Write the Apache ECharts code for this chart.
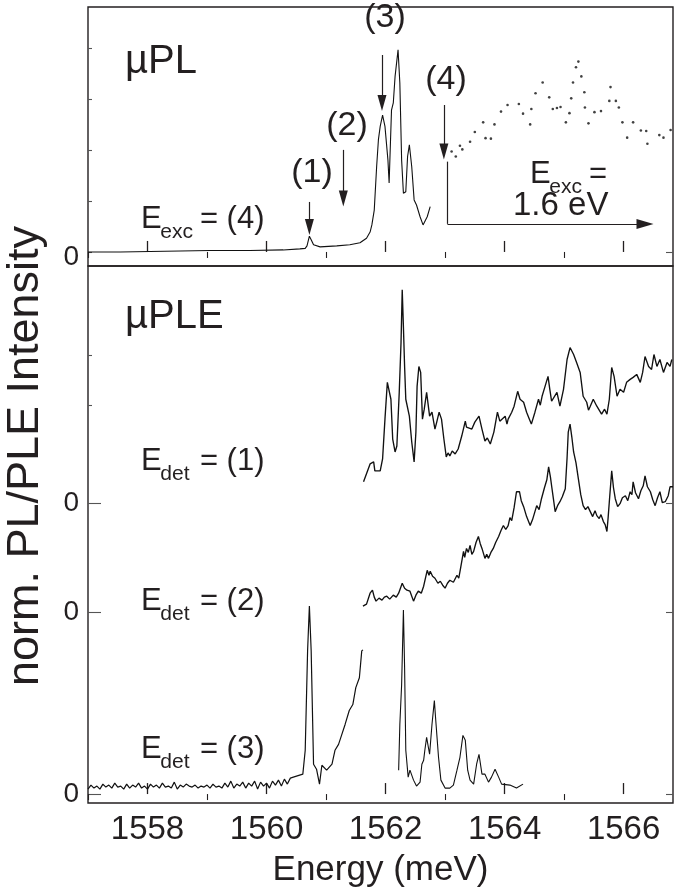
<!DOCTYPE html>
<html>
<head>
<meta charset="utf-8">
<script src="https://cdn.jsdelivr.net/npm/echarts@6/dist/echarts.min.js"></script>
<style>
html,body{margin:0;padding:0;background:#fff}
#chart{width:675px;height:893px}
</style>
</head>
<body>
<div id="chart"></div>
<script>
// Energy axis (meV)
const energyRange = [1557, 1566.83];
const majorTicks = [1558, 1560, 1562, 1564, 1566];
const minorTicks = [1557, 1559, 1561, 1563, 1565];

// μPL panel: spectrum excited at (4), intensity in arbitrary units
const plSpectrum = [
  [1557.00,0.00],[1557.54,0.00],[1558.04,0.01],[1558.55,0.02],[1559.05,0.03],[1559.72,0.03],
  [1560.28,0.04],[1560.56,0.06],[1560.65,0.07],[1560.68,0.12],[1560.72,0.31],[1560.75,0.24],
  [1560.79,0.14],[1560.90,0.10],[1561.18,0.12],[1561.40,0.14],[1561.57,0.18],[1561.68,0.27],
  [1561.74,0.39],[1561.77,0.53],[1561.81,0.82],[1561.85,1.67],[1561.88,2.20],[1561.91,2.46],
  [1561.95,2.68],[1561.99,2.46],[1562.04,1.80],[1562.06,1.35],[1562.10,2.78],[1562.13,2.92],
  [1562.16,3.44],[1562.21,3.96],[1562.23,3.99],[1562.24,3.31],[1562.27,1.80],[1562.30,1.15],
  [1562.34,1.18],[1562.37,1.87],[1562.40,2.10],[1562.44,1.67],[1562.48,1.02],[1562.52,0.92],
  [1562.55,0.89],[1562.58,0.69],[1562.63,0.53],[1562.66,0.53],[1562.70,0.69],[1562.75,0.89]
];

// μPL panel: spectrum excited at 1.6 eV (sparse points)
const plNonResonant = [
  [1563.11,1.97],[1563.18,1.87],[1563.25,2.08],[1563.29,2.01],[1563.42,2.16],[1563.50,2.35],
  [1563.64,2.54],[1563.68,2.23],[1563.77,2.22],[1563.83,2.50],[1563.94,2.75],[1564.05,2.88],
  [1564.24,2.90],[1564.31,2.71],[1564.43,2.50],[1564.45,2.80],[1564.52,3.11],[1564.64,3.32],
  [1564.75,3.03],[1564.81,2.80],[1564.88,2.82],[1564.94,2.84],[1565.03,2.54],[1565.09,2.72],
  [1565.12,3.01],[1565.15,3.32],[1565.20,3.62],[1565.24,3.73],[1565.29,3.44],[1565.34,3.13],
  [1565.35,2.83],[1565.41,2.52],[1565.51,2.74],[1565.62,2.76],[1565.76,2.96],[1565.78,3.23],
  [1565.87,2.96],[1565.92,2.83],[1565.98,2.54],[1566.06,2.24],[1566.16,2.54],[1566.29,2.38],
  [1566.38,2.37],[1566.40,2.12],[1566.60,2.29],[1566.67,2.24],[1566.79,2.39]
];

// μPLE panel: detection at (1)
const pleDet1 = [
  [1561.63,0.22],[1561.74,0.40],[1561.80,0.42],[1561.82,0.33],[1561.91,0.33],[1561.95,0.45],
  [1561.99,0.85],[1562.03,1.22],[1562.06,1.20],[1562.09,1.05],[1562.12,0.65],[1562.16,0.52],
  [1562.19,0.58],[1562.23,1.12],[1562.26,1.62],[1562.28,2.15],[1562.30,1.78],[1562.32,1.38],
  [1562.34,1.05],[1562.37,1.05],[1562.40,0.88],[1562.44,0.62],[1562.48,0.42],[1562.51,0.72],
  [1562.53,1.18],[1562.56,1.38],[1562.59,1.32],[1562.62,0.85],[1562.65,0.95],[1562.69,1.12],
  [1562.74,0.88],[1562.78,0.92],[1562.83,0.75],[1562.86,0.82],[1562.90,0.92],[1562.94,0.85],
  [1562.98,0.65],[1563.02,0.47],[1563.05,0.51],[1563.08,0.48],[1563.12,0.53],[1563.17,0.50],
  [1563.22,0.55],[1563.28,0.68],[1563.34,0.83],[1563.36,0.77],[1563.39,0.78],[1563.45,0.75],
  [1563.50,0.82],[1563.57,0.88],[1563.62,0.75],[1563.67,0.63],[1563.71,0.66],[1563.76,0.60],
  [1563.82,0.72],[1563.88,0.92],[1563.92,0.83],[1563.95,0.85],[1564.01,0.88],[1564.04,0.80],
  [1564.06,0.85],[1564.12,0.92],[1564.16,0.98],[1564.22,1.13],[1564.26,1.05],[1564.32,1.02],
  [1564.37,0.92],[1564.41,0.86],[1564.45,0.80],[1564.51,0.92],[1564.57,1.05],[1564.60,0.99],
  [1564.63,1.08],[1564.68,1.18],[1564.73,1.28],[1564.76,1.15],[1564.79,1.03],[1564.82,1.05],
  [1564.88,1.12],[1564.93,0.98],[1564.99,1.15],[1565.05,1.45],[1565.10,1.57],[1565.16,1.50],
  [1565.21,1.42],[1565.27,1.32],[1565.32,1.08],[1565.38,1.02],[1565.41,0.94],[1565.44,0.98],
  [1565.49,1.05],[1565.55,0.98],[1565.63,0.90],[1565.68,0.95],[1565.72,0.90],[1565.76,1.05],
  [1565.80,1.37],[1565.84,1.28],[1565.89,1.08],[1565.94,1.15],[1566.00,1.12],[1566.05,1.22],
  [1566.11,1.25],[1566.16,1.27],[1566.22,1.30],[1566.28,1.22],[1566.32,1.32],[1566.36,1.48],
  [1566.42,1.38],[1566.47,1.35],[1566.51,1.50],[1566.56,1.38],[1566.61,1.45],[1566.67,1.32],
  [1566.73,1.42],[1566.78,1.38],[1566.81,1.45]
];

// μPLE panel: detection at (2)
const pleDet2 = [
  [1561.62,0.06],[1561.68,0.08],[1561.74,0.19],[1561.78,0.22],[1561.81,0.15],[1561.84,0.11],
  [1561.89,0.14],[1561.94,0.12],[1561.98,0.15],[1562.02,0.16],[1562.07,0.13],[1562.13,0.17],
  [1562.18,0.15],[1562.22,0.19],[1562.28,0.29],[1562.32,0.24],[1562.36,0.22],[1562.41,0.21],
  [1562.47,0.11],[1562.51,0.17],[1562.55,0.21],[1562.60,0.19],[1562.64,0.26],[1562.70,0.42],
  [1562.73,0.37],[1562.75,0.41],[1562.79,0.36],[1562.83,0.34],[1562.88,0.29],[1562.92,0.31],
  [1562.96,0.27],[1563.00,0.24],[1563.04,0.29],[1563.08,0.32],[1563.14,0.30],[1563.20,0.37],
  [1563.23,0.34],[1563.26,0.44],[1563.31,0.61],[1563.33,0.55],[1563.36,0.64],[1563.39,0.60],
  [1563.42,0.67],[1563.45,0.58],[1563.48,0.61],[1563.52,0.70],[1563.56,0.76],[1563.59,0.69],
  [1563.62,0.64],[1563.67,0.54],[1563.70,0.58],[1563.73,0.54],[1563.77,0.60],[1563.81,0.64],
  [1563.85,0.70],[1563.90,0.76],[1563.94,0.82],[1563.98,0.87],[1564.02,0.83],[1564.06,0.87],
  [1564.09,0.95],[1564.12,0.92],[1564.16,1.05],[1564.20,1.21],[1564.25,1.21],[1564.28,1.12],
  [1564.32,1.06],[1564.37,0.96],[1564.43,0.87],[1564.47,0.93],[1564.50,0.99],[1564.54,1.07],
  [1564.58,1.03],[1564.62,1.14],[1564.67,1.25],[1564.71,1.33],[1564.74,1.46],[1564.77,1.36],
  [1564.79,1.27],[1564.82,1.14],[1564.85,1.01],[1564.89,1.07],[1564.93,1.11],[1564.97,1.16],
  [1565.02,1.24],[1565.05,1.55],[1565.07,1.81],[1565.10,1.89],[1565.13,1.76],[1565.16,1.61],
  [1565.20,1.50],[1565.24,1.34],[1565.28,1.18],[1565.32,1.07],[1565.36,1.03],[1565.40,1.06],
  [1565.44,1.01],[1565.48,0.96],[1565.52,1.02],[1565.55,0.97],[1565.59,0.94],[1565.62,0.98],
  [1565.66,0.91],[1565.69,0.88],[1565.72,0.81],[1565.74,0.95],[1565.76,1.11],[1565.80,1.42],
  [1565.83,1.25],[1565.86,1.14],[1565.90,1.06],[1565.94,1.09],[1565.98,1.15],[1566.03,1.17],
  [1566.07,1.12],[1566.11,1.21],[1566.14,1.18],[1566.16,1.31],[1566.20,1.20],[1566.25,1.14],
  [1566.29,1.22],[1566.33,1.27],[1566.36,1.37],[1566.40,1.26],[1566.45,1.21],[1566.49,1.13],
  [1566.53,1.07],[1566.57,1.15],[1566.61,1.21],[1566.65,1.10],[1566.70,1.11],[1566.75,1.17],
  [1566.78,1.26],[1566.83,1.26]
];

// μPLE panel: detection at (3), below and above the detection window
const pleDet3Low = [
  [1557.00,0.05],[1557.05,0.09],[1557.10,0.06],[1557.15,0.08],[1557.20,0.05],[1557.25,0.10],
  [1557.30,0.07],[1557.35,0.09],[1557.40,0.06],[1557.45,0.11],[1557.50,0.07],[1557.55,0.08],
  [1557.60,0.05],[1557.65,0.10],[1557.70,0.06],[1557.75,0.09],[1557.80,0.07],[1557.85,0.11],
  [1557.90,0.06],[1557.95,0.08],[1558.00,0.05],[1558.05,0.10],[1558.10,0.07],[1558.15,0.09],
  [1558.20,0.06],[1558.25,0.11],[1558.30,0.07],[1558.35,0.08],[1558.40,0.06],[1558.45,0.12],
  [1558.50,0.05],[1558.55,0.09],[1558.60,0.07],[1558.65,0.10],[1558.70,0.08],[1558.75,0.07],
  [1558.80,0.09],[1558.85,0.06],[1558.90,0.08],[1558.95,0.07],[1559.00,0.09],[1559.05,0.06],
  [1559.10,0.10],[1559.15,0.07],[1559.20,0.08],[1559.25,0.06],[1559.30,0.11],[1559.35,0.07],
  [1559.40,0.13],[1559.45,0.06],[1559.50,0.10],[1559.55,0.08],[1559.60,0.12],[1559.65,0.06],
  [1559.70,0.11],[1559.75,0.08],[1559.80,0.13],[1559.85,0.05],[1559.90,0.12],[1559.95,0.08],
  [1560.00,0.11],[1560.05,0.06],[1560.10,0.13],[1560.15,0.09],[1560.20,0.14],[1560.25,0.08],
  [1560.30,0.15],[1560.35,0.10],[1560.40,0.16],[1560.45,0.17],[1560.61,0.20],[1560.65,0.44],
  [1560.69,1.44],[1560.72,1.89],[1560.75,1.44],[1560.79,0.30],[1560.84,0.25],[1560.89,0.10],
  [1560.93,0.29],[1561.01,0.24],[1561.10,0.30],[1561.15,0.44],[1561.21,0.50],[1561.26,0.59],
  [1561.32,0.70],[1561.39,0.84],[1561.45,0.90],[1561.50,1.07],[1561.56,1.17],[1561.60,1.44],
  [1561.62,1.45]
];
const pleDet3High = [
  [1562.22,0.24],[1562.24,0.70],[1562.27,1.10],[1562.30,1.85],[1562.32,1.27],[1562.34,0.44],
  [1562.38,0.17],[1562.41,0.24],[1562.44,0.25],[1562.47,0.14],[1562.52,0.08],[1562.58,0.12],
  [1562.61,0.30],[1562.64,0.34],[1562.66,0.44],[1562.69,0.57],[1562.74,0.40],[1562.78,0.70],
  [1562.82,0.94],[1562.84,0.77],[1562.89,0.37],[1562.93,0.14],[1563.00,0.06],[1563.08,0.06],
  [1563.14,0.09],[1563.20,0.24],[1563.25,0.37],[1563.30,0.59],[1563.34,0.54],[1563.38,0.24],
  [1563.42,0.14],[1563.48,0.10],[1563.53,0.30],[1563.57,0.40],[1563.62,0.20],[1563.67,0.20],
  [1563.73,0.12],[1563.78,0.17],[1563.84,0.25],[1563.90,0.17],[1563.95,0.10],[1564.09,0.09],
  [1564.20,0.06],[1564.31,0.10]
];

// vertical offsets of the stacked μPLE spectra
const pleOffsets = { det1: 2.92, det2: 1.83, det3: 0 };

// arrows marking energies (1)-(4) in the μPL panel: [energy, top, tip]
const markerArrows = [
  [1560.72, 0.98, 0.49],
  [1561.29, 2.00, 1.05],
  [1561.94, 3.86, 2.92],
  [1562.98, 2.88, 1.97]
];

const INK = '#231f20';
const FONT = '"Liberation Sans", Arial, sans-serif';

const shift = (arr, d) => arr.map(p => [p[0], +(p[1] + d).toFixed(3)]);

const chart = echarts.init(document.getElementById('chart'), null, { renderer: 'canvas' });

function xAxisPair(gridIndex, withLabels) {
  return [
    {
      type: 'value', gridIndex, min: energyRange[0], max: energyRange[1],
      axisLine: { show: false },
      splitLine: { show: false },
      axisTick: { show: true, inside: true, length: 11, customValues: majorTicks,
                  lineStyle: { color: INK, width: 1.3 } },
      axisLabel: withLabels
        ? { show: true, customValues: majorTicks, formatter: v => String(v),
            fontSize: 33, color: INK, fontFamily: FONT, margin: 10 }
        : { show: false },
      name: withLabels ? 'Energy (meV)' : '',
      nameLocation: 'middle', nameGap: 50,
      nameTextStyle: { fontSize: 35, color: INK, fontFamily: FONT }
    },
    {
      type: 'value', gridIndex, min: energyRange[0], max: energyRange[1],
      axisLine: { show: false }, splitLine: { show: false },
      axisTick: { show: true, inside: true, length: 6, customValues: minorTicks,
                  lineStyle: { color: INK, width: 1.1 } },
      axisLabel: { show: false }
    }
  ];
}

function yAxis(gridIndex, min, max, position, ticks, len, labels) {
  return {
    type: 'value', gridIndex, min, max, position,
    axisLine: { show: false }, splitLine: { show: false },
    axisTick: { show: true, inside: true, length: len, customValues: ticks,
                lineStyle: { color: '#555', width: 1.1 } },
    axisLabel: labels
      ? { show: true, customValues: labels, formatter: () => '0', fontSize: 28, color: INK,
          fontFamily: FONT, margin: 9 }
      : { show: false }
  };
}

function txt(x, y, s, size, align) {
  return { type: 'text', x, y, silent: true,
    style: { text: s, fontSize: size, fontFamily: FONT, fill: INK,
             align: align || 'left', verticalAlign: 'middle' } };
}
// label of the form E_sub = (n)
function subLabel(x, yMid, sub, rest, size) {
  return [
    txt(x, yMid, 'E', size),
    txt(x + 0.62 * size, yMid + 0.42 * size, sub, 0.68 * size),
    txt(x + 1.9 * size, yMid, rest, size)
  ];
}

const arrowLines = markerArrows.map(a => [
  { coord: [a[0], a[1]], symbol: 'none' },
  { coord: [a[0], a[2]], symbol: 'triangle', symbolSize: [9, 16] }
]);
arrowLines.push([
  { coord: [1563.04, 1.77], symbol: 'none' },
  { coord: [1563.04, 0.55], symbol: 'none' }
]);
arrowLines.push([
  { coord: [1563.04, 0.55], symbol: 'none' },
  { coord: [1566.36, 0.55], symbol: 'triangle', symbolSize: [10, 17] }
]);

const lineSeries = (name, data, xi, yi, width, extra) => Object.assign({
  name, type: 'line', data, xAxisIndex: xi, yAxisIndex: yi,
  showSymbol: false, symbol: 'none', smooth: false, animation: false, silent: true,
  lineStyle: { color: '#111', width }
}, extra || {});

const option = {
  backgroundColor: '#fff',
  animation: false,
  grid: [
    { left: 88, top: 7, width: 585, height: 259, show: true, borderColor: INK, borderWidth: 1.4, backgroundColor: 'transparent' },
    { left: 88, top: 266, width: 585, height: 540, show: true, borderColor: INK, borderWidth: 1.4, backgroundColor: 'transparent' }
  ],
  xAxis: [...xAxisPair(0, false), ...xAxisPair(1, true)],
  yAxis: [
    // the "0" of the upper panel sits slightly below its zero tick
    yAxis(0, -0.275, 4.8, 'left', [0, 1, 2, 3, 4], 4, [-0.1]),
    yAxis(0, -0.275, 4.8, 'right', [0], 7, null),
    yAxis(1, -0.09, 5.31, 'left', [pleOffsets.det3, pleOffsets.det2, pleOffsets.det1], 13, [pleOffsets.det3, pleOffsets.det2, pleOffsets.det1]),
    yAxis(1, -0.09, 5.31, 'left', [3.91, 4.41], 4, null),
    yAxis(1, -0.09, 5.31, 'right', [pleOffsets.det3, pleOffsets.det2, pleOffsets.det1], 7, null)
  ],
  series: [
    lineSeries('µPL', plSpectrum, 0, 0, 1.1, {
      markLine: {
        silent: true, animation: false, symbol: ['none', 'triangle'],
        label: { show: false }, emphasis: { disabled: true },
        lineStyle: { color: INK, width: 1.2, type: 'solid' },
        data: arrowLines
      }
    }),
    { name: 'µPL 1.6 eV', type: 'scatter', data: plNonResonant, xAxisIndex: 0, yAxisIndex: 0,
      symbol: 'circle', symbolSize: 2.6, itemStyle: { color: '#111' }, silent: true, animation: false },
    lineSeries('det (1)', shift(pleDet1, pleOffsets.det1), 3, 2, 1.35),
    lineSeries('det (2)', shift(pleDet2, pleOffsets.det2), 3, 2, 1.35),
    lineSeries('det (3) low', shift(pleDet3Low, pleOffsets.det3), 3, 2, 1.2),
    lineSeries('det (3) high', shift(pleDet3High, pleOffsets.det3), 3, 2, 1.1)
  ],
  graphic: [
    { type: 'text', x: 26, y: 456, rotation: Math.PI / 2, silent: true,
      style: { text: 'norm. PL/PLE Intensity', fontSize: 45, fontFamily: FONT, fill: INK,
               align: 'center', verticalAlign: 'middle' } },
    txt(125, 62, 'µPL', 40),
    txt(125, 317, 'µPLE', 40),
    txt(312, 173, '(1)', 34, 'center'),
    txt(347, 126, '(2)', 34, 'center'),
    txt(385, 18, '(3)', 34, 'center'),
    txt(446, 80, '(4)', 34, 'center'),
    ...subLabel(141, 219, 'exc', '= (4)', 31),
    ...subLabel(530, 174, 'exc', '=', 31),
    txt(513, 206, '1.6 eV', 33),
    ...subLabel(141, 461, 'det', '= (1)', 31),
    ...subLabel(141, 601, 'det', '= (2)', 31),
    ...subLabel(141, 749, 'det', '= (3)', 31)
  ]
};

chart.setOption(option);
</script>
</body>
</html>
